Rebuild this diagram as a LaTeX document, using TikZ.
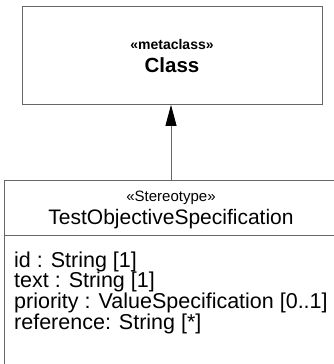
\documentclass[tikz,border=0pt]{standalone}
\usepackage{fontspec}
\setmainfont{Liberation Sans}
\usetikzlibrary{arrows.meta,positioning}
\begin{document}
\begin{tikzpicture}[x=1pt,y=-1pt,
umlbox/.style={draw=black!60,line width=0.9pt,inner sep=0pt},
umltxt/.style={inner sep=0pt,font=\fontsize{21}{25}\selectfont},
attrtxt/.style={inner sep=0pt,font=\fontsize{21.5}{25}\selectfont}]
\useasboundingbox(0,0)rectangle(334,364);
\clip(0,0)rectangle(334,364);
\node[umlbox,minimum width=300,minimum height=98,anchor=north west](cls)at(22,6){};
\node[font=\bfseries\fontsize{14}{16}\selectfont](clsster)at(172,44){«metaclass»};
\node[font=\bfseries\fontsize{20.5}{24}\selectfont](clsname)at(172,65){Class};
\node[umlbox,minimum width=340,minimum height=200,anchor=north west](spec)at(4,180){};
\draw[black!60,line width=0.9pt](spec.west|-0,235)--(spec.east|-0,235);
\node[font=\fontsize{15}{18}\selectfont](specster)at(171,198){«Stereotype»};
\node[umltxt](specname)at(171,219){TestObjectiveSpecification};
\foreach \t [count=\i] in {id : String [1],text : String [1],priority : ValueSpecification [0..1],reference: String [*]}
\node[attrtxt,anchor=base west](attr\i)at(14,267+20.7*\i-20.7){\t};
\coordinate(gen)at(171,180);
\draw[black!60,line width=0.9pt,-{Triangle[width=11pt,length=21pt,fill=black,color=black]}](gen)--(gen|-cls.south);
\end{tikzpicture}
\end{document}
